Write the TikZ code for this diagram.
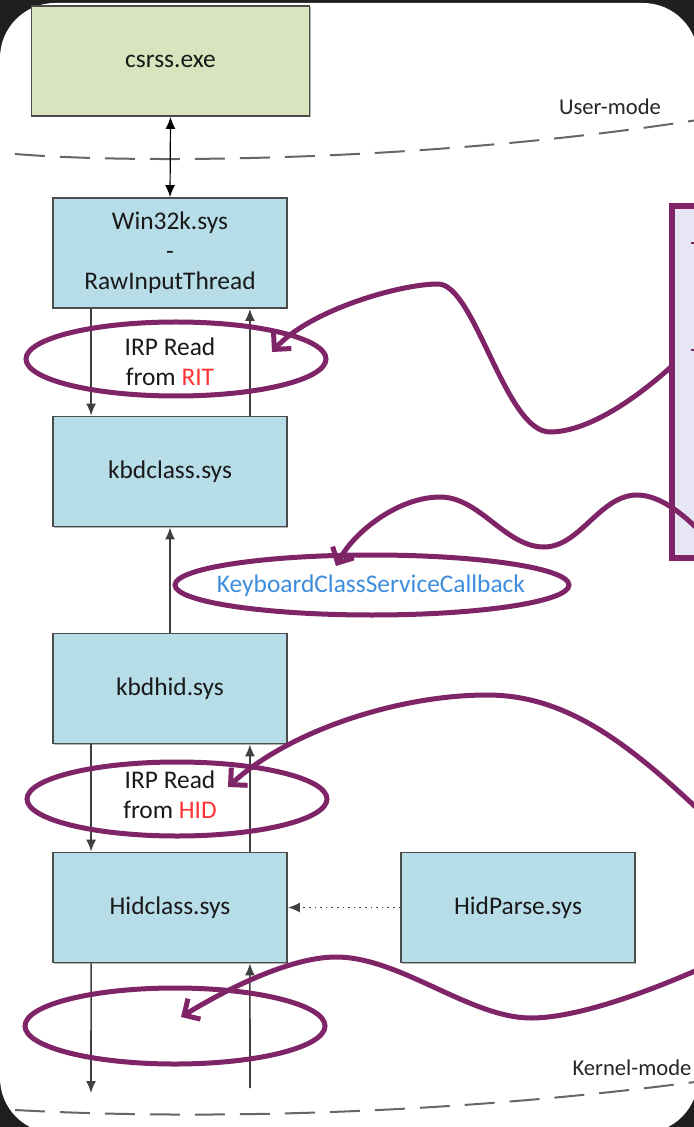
\documentclass[tikz,border=0pt]{standalone}
\usepackage{fontspec}
\setmainfont{Carlito}
\usetikzlibrary{arrows.meta, calc, shadows}
\definecolor{drvblue}{HTML}{B7DDE8}
\definecolor{usrgreen}{HTML}{D7E4BD}
\definecolor{hlpurple}{HTML}{7F2467}
\definecolor{notefill}{HTML}{E6E6F4}
\definecolor{fnblue}{HTML}{3C8DDE}
\definecolor{irpred}{HTML}{FF3333}
\newcommand{\drvfont}{\fontsize{12.7}{15}\selectfont}
\newcommand{\modefont}{\fontsize{11.3}{13}\selectfont}
\tikzset{
  drvbox/.style={draw=black!70, line width=0.9pt, fill=drvblue, minimum width=117pt,
    minimum height=55pt, align=center, text=black!90, font=\drvfont,
    drop shadow={shadow xshift=0.6pt, shadow yshift=-0.6pt, opacity=0.5, fill=black!60}},
  link/.style={draw=black!75, line width=0.8pt},
  ring/.style={draw=hlpurple, line width=2.5pt},
  wavy/.style={draw=hlpurple, line width=2.5pt, -{Straight Barb[length=6pt,width=12pt]}},
  modeline/.style={draw=black!60, line width=1pt, dash pattern=on 15pt off 7.5pt}
}

\begin{document}
\begin{tikzpicture}[x=0.5pt, y=-0.5pt, >={Latex[length=6pt,width=5pt]}]
  \useasboundingbox (0,0) rectangle (694,1127);
  \clip (0,0) rectangle (694,1127);
  \fill[black!88] (0,0) rectangle (694,1127);
  \fill[white, rounded corners=27.5pt] (0,3) rectangle (698,1133);

  % user / kernel boundaries
  \draw[modeline] (15,154) .. controls (150,165) and (450,160) .. (710,118);
  \draw[modeline] (15,1110) .. controls (200,1120) and (450,1115) .. (710,1080);
  \node[font=\modefont, text=black!85] (user) at (610,107) {User-mode};
  \node[font=\modefont, text=black!85] (kernel) at (632,1068) {Kernel-mode};

  \node[drvbox, fill=usrgreen, minimum width=139pt] (csrss) at (170.5,61) {csrss.exe};
  \node[drvbox] (win32k) at (170,253) {Win32k.sys\\-\\RawInputThread};
  \node[drvbox] (kbdclass) at (170,471.5) {kbdclass.sys};
  \node[drvbox] (kbdhid) at (170,688.5) {kbdhid.sys};
  \node[drvbox] (hidclass) at (170,907.5) {Hidclass.sys};
  \node[drvbox] (hidparse) at (518,907.5) {HidParse.sys};

  \draw[<->, line width=0.6pt] (csrss.south) -- (win32k.north);
  \draw[link, ->] ($(win32k.south west)+(39,0)$) -- ($(kbdclass.north west)+(39,0)$);
  \draw[link, ->] ($(kbdclass.north east)+(-38,0)$) -- ($(win32k.south east)+(-38,0)$);
  \draw[link, ->] (kbdhid.north) -- (kbdclass.south);
  \draw[link, ->] ($(kbdhid.south west)+(39,0)$) -- ($(hidclass.north west)+(39,0)$);
  \draw[link, ->] ($(hidclass.north east)+(-38,0)$) -- ($(kbdhid.south east)+(-38,0)$);
  \draw[link, dotted, ->] (hidparse.west) -- (hidclass.east);
  \coordinate (irpout) at (91,1093);
  \coordinate (irpin) at (250,1088);
  \draw[link, ->] ($(hidclass.south west)+(39,0)$) -- (irpout);
  \draw[link, ->] (irpin) -- ($(hidclass.south east)+(-38,0)$);

  \node[align=center, font=\drvfont, text=black!90] (irprit) at (170,362) {IRP Read\\from \textcolor{irpred}{RIT}};
  \node[align=center, font=\drvfont, text=black!90] (irphid) at (170,795) {IRP Read\\from \textcolor{irpred}{HID}};
  \node[font=\drvfont, text=fnblue] (callback) at (371,586) {KeyboardClassServiceCallback};

  \draw[ring] (176,359) ellipse [x radius=150, y radius=37];
  \draw[ring] (372,585) ellipse [x radius=197, y radius=30];
  \draw[ring] (177,799) ellipse [x radius=150, y radius=37];
  \draw[ring] (175,1026) ellipse [x radius=150, y radius=38];

  \node[draw=hlpurple, line width=3pt, fill=notefill, outer sep=0, anchor=north west,
    minimum width=54pt, minimum height=175.75pt] (note) at (671.5,206.5) {};
  \draw[hlpurple, line width=0.7pt] (691,243) -- (694,243);
  \draw[hlpurple, line width=0.7pt] (691,350) -- (694,350);

  \coordinate (tiprit) at (272,352);
  \coordinate (tipcb) at (336,566);
  \coordinate (tiphid) at (228,787);
  \coordinate (tipraw) at (181,1017);
  \coordinate (fromcb) at (730,565);
  \coordinate (fromhid) at (760,870);
  \coordinate (fromraw) at (740,950);
  \draw[wavy] ($(note.north west)+(0,160)$) .. controls (640,395) and (590,432) .. (550,432)
    .. controls (505,432) and (475,284) .. (438,284) .. controls (400,284) and (310,310) .. (tiprit);
  \draw[wavy] (fromcb) .. controls (705,535) and (670,495) .. (637,495)
    .. controls (600,495) and (580,547) .. (544,547) .. controls (505,547) and (480,497) .. (440,497)
    .. controls (400,497) and (355,530) .. (tipcb);
  \draw[wavy] (fromhid) .. controls (650,760) and (580,695) .. (487,695)
    .. controls (400,695) and (290,730) .. (tiphid);
  \draw[wavy] (fromraw) .. controls (690,975) and (590,1018) .. (531,1018)
    .. controls (470,1018) and (400,957) .. (336,957) .. controls (290,957) and (225,990) .. (tipraw);
\end{tikzpicture}
\end{document}
